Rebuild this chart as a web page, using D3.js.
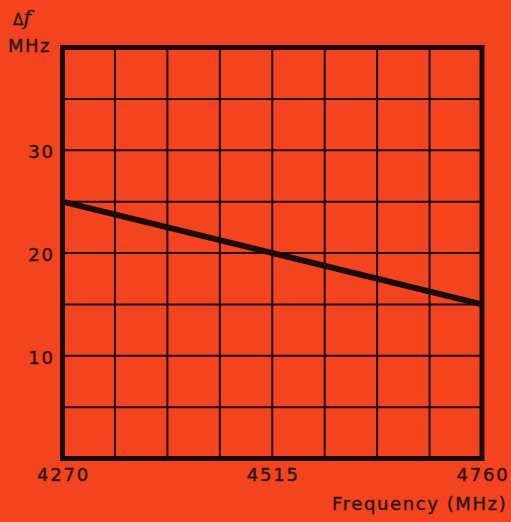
<!DOCTYPE html>
<html><head><meta charset="utf-8">
<script src="https://cdn.jsdelivr.net/npm/d3@7"></script>
<style>body{margin:0;background:#f4431f;}svg{display:block;}</style>
</head><body>
<script>
const freq = [4270, 4760];
const deltaF = [25, 15];
const xTickLabels = [4270, 4515, 4760];
const yTickLabels = [10, 20, 30];
const xGrid = d3.range(4270, 4760.1, 61.25);
const yGrid = d3.range(0, 40.1, 5);

const W = 511, H = 522;
const L = 62.5, R = 482, T = 47.5, B = 458.5;
const ink = "#1a0c08", txt = "#2a1610";
const svg = d3.select("body").append("svg").attr("width", W).attr("height", H);
svg.append("rect").attr("width", W).attr("height", H).attr("fill", "#f4431f");

const x = d3.scaleLinear().domain([4270, 4760]).range([L, R]);
const y = d3.scaleLinear().domain([0, 40]).range([B, T]);

const g = svg.append("g");
g.selectAll(".vg").data(xGrid).enter().append("line")
  .attr("x1", d => x(d)).attr("x2", d => x(d)).attr("y1", T).attr("y2", B)
  .attr("stroke", ink).attr("stroke-width", 2);
g.selectAll(".hg").data(yGrid).enter().append("line")
  .attr("y1", d => y(d)).attr("y2", d => y(d)).attr("x1", L).attr("x2", R)
  .attr("stroke", ink).attr("stroke-width", 2);
g.append("rect").attr("x", L).attr("y", T).attr("width", R - L).attr("height", B - T)
  .attr("fill", "none").attr("stroke", ink).attr("stroke-width", 5);

const line = d3.line().x((d, i) => x(freq[i])).y(d => y(d));
g.append("path").datum(deltaF).attr("d", line).attr("fill", "none")
  .attr("stroke", ink).attr("stroke-width", 6);

const font = "'DejaVu Sans', sans-serif";
function styl(sel, size, ls) {
  return sel.attr("font-family", font).attr("font-size", size).attr("letter-spacing", ls)
    .attr("fill", txt).attr("stroke", txt).attr("stroke-width", 0.4);
}
styl(svg.selectAll(".xl").data(xTickLabels).enter().append("text")
  .attr("x", d => x(d) + 1).attr("y", 481).attr("text-anchor", "middle"), 18, 1.8)
  .text(d => d);
styl(svg.selectAll(".yl").data(yTickLabels).enter().append("text")
  .attr("x", 54.8).attr("y", d => y(d) + 8).attr("text-anchor", "end"), 18, 1.8)
  .text(d => d);
styl(svg.append("text").attr("x", 332).attr("y", 510), 18, 1.6)
  .text("Frequency  (MHz)");
styl(svg.append("text").attr("x", 8).attr("y", 52), 18, 1.5)
  .text("MHz");
const df = styl(svg.append("text").attr("x", 13).attr("y", 25), 17, 0);
df.append("tspan").attr("font-size", 15).text("Δ");
df.append("tspan").attr("font-family", "'DejaVu Serif', serif").attr("font-style", "italic").attr("font-size", 21).text("f");
</script>
</body></html>
